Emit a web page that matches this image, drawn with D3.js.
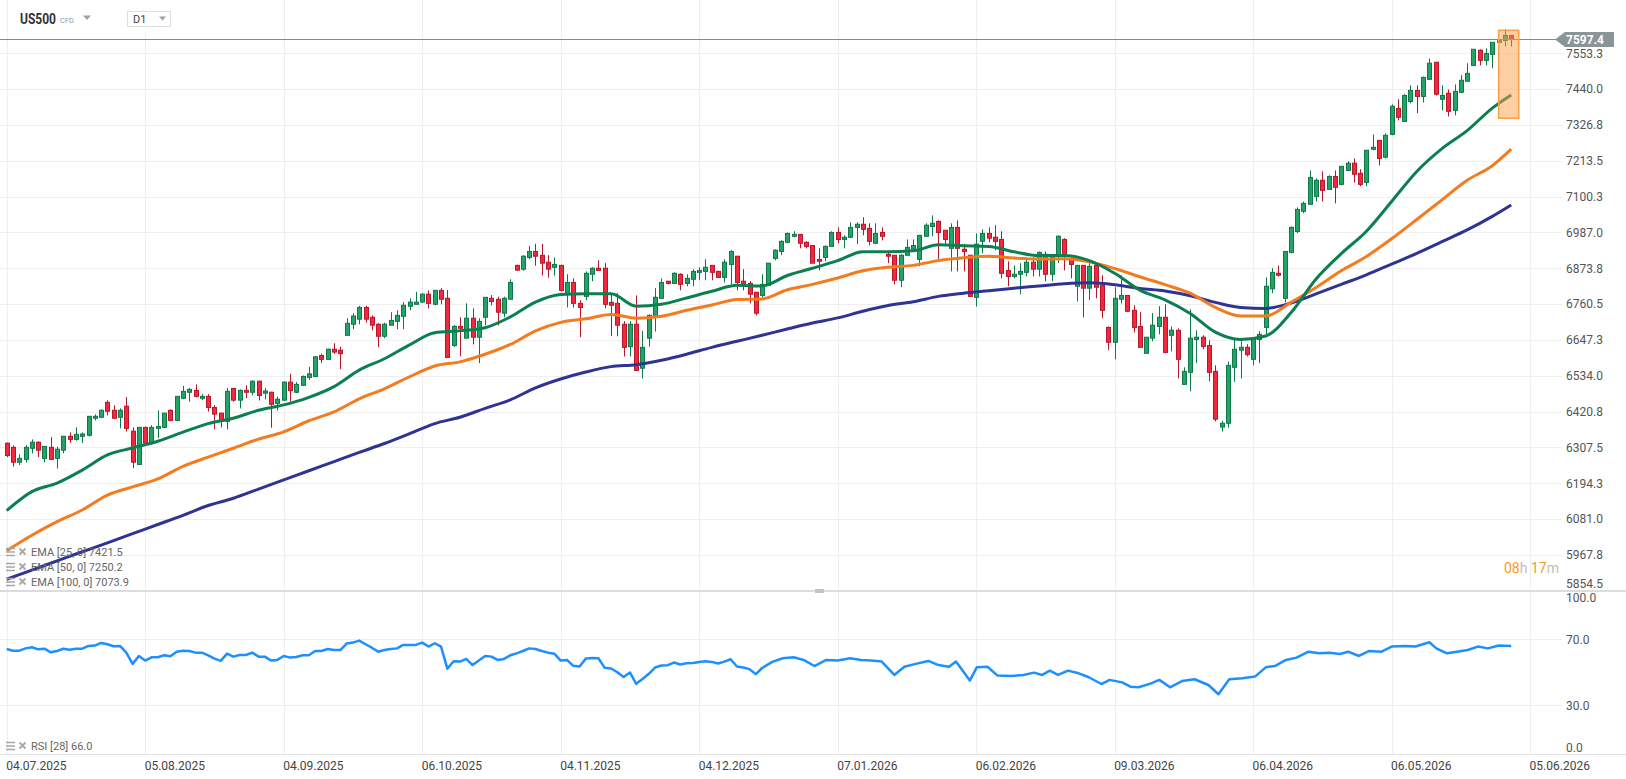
<!DOCTYPE html>
<html>
<head>
<meta charset="utf-8">
<script src="https://cdn.jsdelivr.net/npm/d3@7"></script>
<style>
  body { margin: 0; background: #fff; }
  svg { display: block; font-family: Roboto, "Noto Sans", sans-serif; }
</style>
</head>
<body>
<svg width="1626" height="779"></svg>
<script>
// ---- data (daily bars, index 0 = 04.07.2025) ----

var dateBars = [0, 22, 44, 66, 88, 110, 132, 154, 176, 198, 220, 242];
var dateLabels = ["04.07.2025", "05.08.2025", "04.09.2025", "06.10.2025", "04.11.2025", "04.12.2025",
                  "07.01.2026", "06.02.2026", "09.03.2026", "06.04.2026", "06.05.2026", "05.06.2026"];

var priceTicks = [5854.5, 5967.8, 6081.0, 6194.3, 6307.5, 6420.8, 6534.0, 6647.3,
                  6760.5, 6873.8, 6987.0, 7100.3, 7213.5, 7326.8, 7440.0, 7553.3];
var rsiTicks = [0, 30, 70, 100];

var open = [
6321,6308,6261,6270,6305,6324,6273,6308,6273,6299,6343,6333,6343,6346,6400,6403,6450,6425,6403,6438,
6359,6254,6371,6321,6368,6371,6425,6393,6463,6482,6488,6463,6469,6434,6416,6390,6494,6457,6488,6482,
6517,6479,6482,6447,6457,6514,6482,6504,6529,6532,6598,6586,6618,6615,6662,6697,6713,6750,6719,6697,
6659,6694,6706,6722,6754,6760,6767,6792,6760,6804,6779,6630,6690,6653,6716,6656,6719,6779,6776,6732,
6776,6883,6871,6908,6927,6915,6893,6877,6883,6795,6829,6763,6785,6855,6874,6874,6766,6763,6697,6626,
6697,6558,6653,6725,6779,6833,6826,6855,6826,6839,6861,6864,6883,6864,6845,6886,6912,6833,6826,6798,
6788,6820,6905,6927,6956,6975,6981,6956,6946,6902,6908,6943,6987,6965,6972,7003,7013,7000,6953,6987,
6918,6915,6836,6915,6934,6902,6975,7006,7022,6994,6937,7003,6934,6915,6782,6959,6984,6972,6965,6867,
6848,6855,6861,6893,6871,6918,6855,6912,6965,6905,6817,6883,6811,6883,6820,6687,6640,6776,6788,6741,
6690,6605,6653,6690,6719,6662,6678,6507,6545,6649,6656,6630,6548,6372,6384,6561,6615,6624,6586,6649,
6687,6809,6858,6779,6924,6990,7054,7076,7101,7152,7123,7164,7139,7183,7206,7174,7145,7250,7278,7225,
7297,7379,7338,7401,7436,7417,7471,7525,7408,7427,7373,7430,7465,7515,7563,7531,7550,7588,7594,7610
];
var high = [
6323,6314,6286,6315,6333,6327,6311,6340,6310,6343,6355,6371,6355,6406,6412,6428,6457,6441,6431,6467,
6371,6371,6373,6378,6425,6416,6428,6469,6502,6496,6507,6476,6476,6441,6417,6496,6495,6491,6504,6519,
6518,6495,6484,6468,6516,6540,6514,6535,6562,6596,6604,6620,6637,6626,6716,6732,6755,6755,6725,6701,
6702,6735,6741,6767,6779,6799,6795,6804,6804,6811,6805,6695,6719,6763,6747,6716,6782,6789,6784,6784,
6839,6885,6915,6944,6951,6951,6915,6908,6885,6855,6842,6773,6864,6877,6899,6890,6795,6795,6707,6707,
6788,6676,6728,6811,6842,6833,6861,6858,6855,6871,6877,6902,6883,6866,6902,6931,6912,6871,6833,6798,
6855,6890,6934,6962,6987,6991,6981,6959,6946,6937,6946,6991,7003,6978,7019,7019,7035,7016,7016,7003,
6927,6915,6918,6965,6965,6978,7016,7041,7025,6994,7016,7025,6950,6915,6984,6997,7003,7010,6991,6896,
6883,6890,6908,6908,6927,6927,6915,6978,6969,6908,6883,6883,6890,6890,6852,6690,6814,6852,6788,6757,
6735,6656,6732,6754,6760,6690,6684,6561,6744,6678,6662,6646,6567,6392,6579,6649,6653,6634,6656,6675,
6845,6874,6883,6927,7006,7066,7085,7183,7158,7180,7168,7183,7196,7212,7221,7187,7247,7297,7278,7300,
7392,7408,7424,7452,7452,7480,7537,7525,7452,7439,7455,7484,7522,7566,7566,7569,7588,7594,7629,7610
];
var low = [
6277,6247,6252,6260,6289,6277,6261,6268,6241,6289,6322,6329,6321,6342,6393,6400,6409,6397,6368,6358,
6242,6252,6318,6318,6337,6368,6390,6390,6460,6452,6466,6457,6421,6365,6371,6365,6452,6431,6463,6472,
6456,6460,6370,6424,6455,6452,6479,6502,6521,6530,6574,6584,6603,6555,6662,6681,6697,6702,6678,6624,
6653,6694,6681,6681,6741,6760,6765,6747,6757,6760,6592,6625,6596,6653,6633,6574,6694,6757,6693,6719,
6776,6866,6866,6902,6882,6851,6844,6851,6800,6750,6750,6656,6773,6833,6866,6747,6660,6659,6595,6595,
6551,6525,6626,6674,6779,6823,6826,6804,6817,6817,6836,6836,6836,6843,6829,6823,6804,6804,6763,6725,
6782,6820,6899,6915,6953,6972,6937,6937,6890,6867,6896,6943,6953,6937,6969,6950,6978,6946,6950,6962,
6890,6823,6814,6915,6927,6880,6975,6975,6902,6950,6864,6864,6864,6785,6753,6921,6956,6931,6842,6817,
6842,6792,6848,6848,6848,6833,6833,6890,6867,6842,6769,6719,6773,6779,6716,6615,6586,6763,6735,6671,
6624,6605,6643,6665,6605,6611,6526,6507,6485,6574,6618,6517,6390,6358,6370,6515,6525,6595,6567,6574,
6665,6795,6848,6766,6921,6985,7048,7076,7085,7085,7123,7079,7136,7183,7145,7133,7133,7247,7199,7221,
7294,7341,7338,7395,7364,7398,7471,7420,7373,7354,7357,7427,7465,7515,7515,7515,7506,7587,7575,7575
];
var close = [
6282,6261,6273,6308,6324,6299,6311,6270,6302,6343,6333,6349,6350,6406,6406,6425,6422,6400,6425,6368,
6261,6371,6321,6371,6374,6416,6393,6469,6485,6491,6469,6469,6434,6413,6390,6485,6457,6488,6482,6517,
6472,6486,6444,6460,6514,6487,6507,6532,6540,6594,6586,6618,6609,6604,6700,6723,6750,6713,6694,6659,
6697,6709,6725,6757,6767,6767,6792,6763,6804,6776,6592,6690,6684,6716,6656,6706,6782,6769,6735,6779,
6829,6868,6912,6927,6912,6890,6871,6886,6804,6829,6763,6750,6858,6874,6867,6760,6757,6694,6624,6697,
6551,6624,6725,6782,6829,6826,6858,6823,6842,6864,6867,6877,6861,6845,6893,6927,6829,6823,6792,6732,
6823,6890,6931,6959,6984,6981,6953,6943,6890,6896,6943,6987,6965,6972,7003,7013,6997,6959,6984,6975,
6912,6836,6915,6940,6946,6978,7010,7016,6987,6965,7003,6937,6927,6785,6950,6984,6969,6959,6858,6848,
6855,6864,6893,6871,6924,6855,6908,6975,6915,6886,6883,6811,6880,6814,6741,6640,6779,6788,6738,6687,
6624,6656,6694,6719,6608,6678,6586,6548,6653,6656,6627,6545,6397,6384,6567,6618,6624,6601,6653,6665,
6817,6861,6852,6927,7003,7060,7079,7161,7152,7120,7164,7130,7196,7206,7171,7139,7247,7256,7221,7294,
7386,7351,7420,7436,7417,7477,7522,7424,7420,7370,7433,7468,7490,7566,7531,7553,7588,7593,7610,7597.4
];

// moving averages, read every 4th bar
var emaBars = [0,4,8,12,16,20,24,28,32,36,40,44,48,52,56,60,64,68,72,76,80,84,88,92,96,100,104,108,112,116,
               120,124,128,132,136,140,144,148,152,156,160,164,168,172,176,180,184,188,192,196,200,204,208,212,
               216,220,224,228,232,236,239];
var ema25 = [6108,6168,6195,6236,6284,6306,6327,6356,6383,6400,6425,6442,6466,6500,6552,6588,6632,6670,6676,6686,
             6720,6767,6791,6793,6793,6754,6760,6780,6801,6820,6818,6851,6874,6898,6926,6926,6929,6948,6945,6943,
             6926,6914,6914,6898,6858,6805,6774,6731,6672,6649,6660,6733,6840,6920,6991,7085,7180,7252,7309,7380,7421.5];
var ema50 = [5981,6030,6073,6110,6157,6183,6208,6248,6277,6305,6334,6357,6392,6420,6461,6493,6531,6565,6578,6602,
             6633,6676,6703,6714,6728,6716,6722,6741,6758,6775,6777,6806,6823,6843,6866,6877,6883,6898,6907,6912,
             6906,6903,6904,6894,6873,6847,6822,6795,6750,6723,6723,6766,6813,6866,6911,6967,7028,7090,7152,7198,7250.2];
var ema100 = [5891,5920,5949,5978,6006,6035,6064,6093,6124,6147,6176,6205,6234,6263,6292,6320,6351,6383,6403,6431,
              6458,6496,6524,6546,6563,6569,6583,6602,6624,6643,6662,6682,6701,6717,6738,6756,6768,6785,6795,6803,
              6811,6818,6825,6828,6822,6810,6802,6787,6766,6750,6747,6764,6793,6823,6853,6887,6921,6958,6995,7038,7073.9];

// RSI 28
var rsiBars = [
0,1,2,3,4,5,6,7,8,9,10,11,12,13,14,15,16,17,18,19,20,21,22,23,24,25,26,27,28,29,
30,31,32,33,34,35,36,37,38,39,40,41,42,43,44,45,46,47,48,49,50,51,52,53,54,55,56,57,58,59,
60,61,62,63,64,65,66,67,68,69,70,71,72,73,74,75,76,77,78,79,80,81,82,83,84,85,86,87,88,89,
90,91,92,93,94,95,96,97,98,99,100,101,102,103,104,105,106,107,108,109,110,111,112,113,114,115,116,117,118,119,120,
121.7,123.3,125,126.6,128.3,130.2,132,134,135.7,137.3,139,141,142.6,144.4,146.4,148,149.7,150.8,153,154.1,
155.8,157.4,159.6,161.5,163.2,164.5,165.7,167,168.6,170.3,171.9,173.9,175.2,177.2,178.5,179.8,181.8,183.1,184.8,186.7,
188.7,190.9,192.5,194.2,196.3,198.3,200,201.6,203.2,204.9,206.8,208.5,210.1,211.8,213.1,214.8,216.4,218.4,220,222.2,
223.8,226,227.1,228.8,230.4,232.1,233.7,235.3,237,239
];
var rsiValues = [
64.1,63.1,63.1,64.5,65.2,63.9,64.3,62.1,62.9,64.3,63.7,64.3,64.3,66.0,66.2,67.8,67.0,65.8,66.0,61.9,
55.1,59.9,57.1,59.1,59.1,60.3,59.7,62.5,63.1,62.9,61.9,61.9,60.3,58.3,56.9,61.3,59.5,60.5,60.5,61.9,
59.5,59.5,57.1,57.5,59.9,58.9,59.3,60.3,60.3,62.9,62.9,64.1,63.5,63.5,67.4,68.0,69.2,67.0,64.9,62.5,
63.5,64.1,64.5,66.6,66.6,66.6,68.0,65.6,67.6,65.6,52.2,56.7,56.5,58.1,54.4,57.1,59.9,59.5,57.5,58.1,
60.3,61.5,62.9,64.5,64.1,62.9,61.9,61.3,57.1,57.5,53.9,53.5,58.3,58.7,58.5,52.7,52.3,50.0,47.1,49.9,
43.0,45.9,49.1,52.9,54.1,54.3,55.9,54.7,55.5,55.7,56.3,56.7,56.3,55.3,56.5,57.9,53.5,52.9,51.9,48.9,52.6,
56.5,58.5,59.1,57.5,53.8,57.5,57.1,58.5,57.5,57.1,56.5,48.4,53.4,55.1,56.9,54.4,53.4,56.5,45.0,53.0,
53.4,48.0,47.8,48.4,49.8,48.4,51.0,48.4,51.0,49.4,47.0,42.9,45.4,43.9,41.3,40.9,43.3,45.4,40.9,44.7,
45.8,42.3,36.7,45.8,46.4,47.4,53.0,54.0,57.5,58.9,62.5,61.5,61.9,61.1,62.5,59.9,62.9,62.5,65.6,66.0,
65.6,68.2,64.5,61.5,62.5,63.5,65.6,64.5,66.2,66.0
];

var lastPrice = 7597.4;
var legendLines = ["EMA [25, 0] 7421.5", "EMA [50, 0] 7250.2", "EMA [100, 0] 7073.9"];
var legendColors = ["#0c7f50", "#f47b20", "#2d3494"];
// orange marker box round the last bars (bar range, price range)
var boxBars = [237, 240.2];
var boxPrices = [7348, 7626];

// ---- layout ----
var svg = d3.select("svg"),
    width = +svg.attr("width"),
    height = +svg.attr("height"),
    plotRight = 1562;

// bar index -> x, price -> y, rsi -> y
var x = d3.scaleLinear().domain([0, 242]).range([6.7, 1530.1]);
var y = d3.scaleLinear().domain([5854.5, 7553.3]).range([590.8, 53.3]);
var yr = d3.scaleLinear().domain([0, 100]).range([754.8, 589.8]);

var upFill = "#22a466", upLine = "#10774a",
    downFill = "#f2283c", downLine = "#b7172c";

var defs = svg.append("defs");
defs.append("clipPath").attr("id", "clipMain")
  .append("rect").attr("x", 0).attr("y", 0).attr("width", plotRight).attr("height", 590);
defs.append("clipPath").attr("id", "clipRsi")
  .append("rect").attr("x", 0).attr("y", 592).attr("width", plotRight).attr("height", 162);

svg.append("rect").attr("width", width).attr("height", height).attr("fill", "#fff");

// grid
var grid = svg.append("g").attr("stroke", "#efefef").attr("stroke-width", 1);
grid.selectAll(".vg").data(dateBars).enter().append("line")
    .attr("x1", function(d) { return Math.round(x(d)) + 0.5; })
    .attr("x2", function(d) { return Math.round(x(d)) + 0.5; })
    .attr("y1", 0).attr("y2", 754);
grid.selectAll(".hg").data(priceTicks).enter().append("line")
    .attr("x1", 0).attr("x2", plotRight)
    .attr("y1", function(d) { return Math.round(y(d)) + 0.5; })
    .attr("y2", function(d) { return Math.round(y(d)) + 0.5; });
grid.selectAll(".rg").data([30, 70]).enter().append("line")
    .attr("x1", 0).attr("x2", plotRight)
    .attr("y1", function(d) { return Math.round(yr(d)) + 0.5; })
    .attr("y2", function(d) { return Math.round(yr(d)) + 0.5; });

// pane separator + bottom line
svg.append("line").attr("x1", 0).attr("x2", width).attr("y1", 591).attr("y2", 591)
    .attr("stroke", "#dcdcdc").attr("stroke-width", 2);
svg.append("rect").attr("x", 815).attr("y", 589).attr("width", 9).attr("height", 4).attr("fill", "#c4c4c4");
svg.append("line").attr("x1", 0).attr("x2", width).attr("y1", 754.5).attr("y2", 754.5)
    .attr("stroke", "#e2e2e2").attr("stroke-width", 1);

// header (white patch keeps gridlines out)
var head = svg.append("g");
head.append("rect").attr("x", 14).attr("y", 0).attr("width", 165).attr("height", 31).attr("fill", "#fff");
head.append("text").attr("x", 20).attr("y", 23.5).attr("font-size", 14).attr("font-weight", "bold")
    .attr("textLength", 36).attr("lengthAdjust", "spacingAndGlyphs")
    .attr("fill", "#333").text("US500");
head.append("text").attr("x", 60).attr("y", 22.5).attr("font-size", 7.5).attr("fill", "#999").text("CFD");
head.append("path").attr("d", "M83,15.5L91,15.5L87,20Z").attr("fill", "#a0a0a0");
head.append("rect").attr("x", 127.5).attr("y", 11.5).attr("width", 43).attr("height", 15)
    .attr("fill", "#fff").attr("stroke", "#dedede");
head.append("text").attr("x", 133).attr("y", 23).attr("font-size", 11).attr("fill", "#444").text("D1");
head.append("path").attr("d", "M159,16.5L166,16.5L162.5,20.5Z").attr("fill", "#a0a0a0");

// candles
var main = svg.append("g").attr("clip-path", "url(#clipMain)");
var bars = main.append("g").selectAll("g")
  .data(d3.range(close.length))
  .enter().append("g");

bars.append("line")
    .attr("x1", function(i) { return Math.round(x(i)) + 0.5; })
    .attr("x2", function(i) { return Math.round(x(i)) + 0.5; })
    .attr("y1", function(i) { return y(high[i]); })
    .attr("y2", function(i) { return y(low[i]); })
    .attr("stroke", function(i) { return close[i] >= open[i] ? upLine : downLine; })
    .attr("stroke-width", 1);

bars.append("rect")
    .attr("x", function(i) { return Math.round(x(i)) - 1.5; })
    .attr("width", 4)
    .attr("y", function(i) { return y(Math.max(open[i], close[i])); })
    .attr("height", function(i) { return Math.max(1, Math.abs(y(open[i]) - y(close[i]))); })
    .attr("fill", function(i) { return close[i] >= open[i] ? upFill : downFill; })
    .attr("stroke", function(i) { return close[i] >= open[i] ? upLine : downLine; })
    .attr("stroke-width", 1);

// EMA lines on top of the candles
var emaLine = function(vals) {
  return d3.line()
    .x(function(d, k) { return x(emaBars[k]); })
    .y(function(d) { return y(d); })
    .curve(d3.curveMonotoneX)(vals);
};
[ema100, ema50, ema25].forEach(function(vals, k) {
  main.append("path")
      .attr("d", emaLine(vals))
      .attr("fill", "none")
      .attr("stroke", legendColors[2 - k])
      .attr("stroke-width", 3)
      .attr("stroke-linejoin", "round");
});

// last price line
main.append("line").attr("x1", 0).attr("x2", plotRight)
    .attr("y1", Math.round(y(lastPrice)) + 0.5).attr("y2", Math.round(y(lastPrice)) + 0.5)
    .attr("stroke", "#7f8b8f").attr("stroke-width", 1.2);

// highlight box over the last bars
main.append("rect")
    .attr("x", x(boxBars[0]))
    .attr("width", x(boxBars[1]) - x(boxBars[0]))
    .attr("y", y(boxPrices[1]))
    .attr("height", y(boxPrices[0]) - y(boxPrices[1]))
    .attr("fill", "rgba(252,160,72,0.5)")
    .attr("stroke", "#f6a04a")
    .attr("stroke-width", 1.5);

// price axis
var yAxis = svg.append("g")
    .attr("transform", "translate(" + plotRight + ",0)")
    .call(d3.axisRight(y).tickValues(priceTicks).tickSize(0).tickPadding(4).tickFormat(d3.format(".1f")));
yAxis.select(".domain").remove();
yAxis.selectAll("text").attr("font-size", 12).attr("fill", "#555").attr("font-family", "Roboto, sans-serif");
yAxis.selectAll(".tick").filter(function(d) { return d === 5854.5; }).select("text").attr("dy", "-0.25em");

// price tag
var ty = Math.round(y(lastPrice)) + 0.5;
svg.append("path")
    .attr("d", "M1555," + ty + "L1565," + (ty - 7.5) + "L1614," + (ty - 7.5) + "L1614," + (ty + 7.5) + "L1565," + (ty + 7.5) + "Z")
    .attr("fill", "#8a9599");
svg.append("text").attr("x", 1566).attr("y", ty).attr("dy", "0.35em")
    .attr("font-size", 12).attr("font-weight", "bold").attr("fill", "#fff")
    .text(d3.format(".1f")(lastPrice));

// countdown
var timer = svg.append("text").attr("x", 1504).attr("y", 573).attr("font-size", 14);
timer.append("tspan").attr("fill", "#f59a23").text("08");
timer.append("tspan").attr("fill", "#bdbdbd").text("h ");
timer.append("tspan").attr("fill", "#f59a23").text("17");
timer.append("tspan").attr("fill", "#bdbdbd").text("m");

// EMA legend
var legend = svg.append("g")
  .selectAll("g")
  .data(legendLines)
  .enter().append("g")
    .attr("transform", function(d, i) { return "translate(0," + (552 + i * 15) + ")"; });
legend.append("path")
    .attr("d", "M6,-3.5H15M6,0H15M6,3.5H15")
    .attr("stroke", "#a8a8a8").attr("stroke-width", 1.6);
legend.append("path")
    .attr("d", "M19.5,-3.5L25.5,2.5M25.5,-3.5L19.5,2.5")
    .attr("stroke", "#a8a8a8").attr("stroke-width", 1.8);
legend.append("text")
    .attr("x", 31).attr("dy", "0.35em")
    .attr("font-size", 11).attr("fill", "#666")
    .text(function(d) { return d; });

// RSI pane
var rsiG = svg.append("g").attr("clip-path", "url(#clipRsi)");
rsiG.append("path")
    .attr("d", d3.line()
        .x(function(d) { return x(d[0]); })
        .y(function(d) { return yr(d[1]); })(d3.zip(rsiBars, rsiValues)))
    .attr("fill", "none")
    .attr("stroke", "#1e8fff")
    .attr("stroke-width", 2.5)
    .attr("stroke-linejoin", "round");

var rAxis = svg.append("g")
    .attr("transform", "translate(" + plotRight + ",0)")
    .call(d3.axisRight(yr).tickValues(rsiTicks).tickSize(0).tickPadding(4).tickFormat(d3.format(".1f")));
rAxis.select(".domain").remove();
rAxis.selectAll("text").attr("font-size", 12).attr("fill", "#555").attr("font-family", "Roboto, sans-serif");
rAxis.selectAll(".tick").filter(function(d) { return d === 100; }).select("text").attr("dy", "1em");
rAxis.selectAll(".tick").filter(function(d) { return d === 0; }).select("text").attr("dy", "-0.25em");

var rsiLeg = svg.append("g").attr("transform", "translate(0,746)");
rsiLeg.append("path").attr("d", "M6,-3.5H15M6,0H15M6,3.5H15").attr("stroke", "#a8a8a8").attr("stroke-width", 1.6);
rsiLeg.append("path").attr("d", "M19.5,-3.5L25.5,2.5M25.5,-3.5L19.5,2.5").attr("stroke", "#a8a8a8").attr("stroke-width", 1.8);
rsiLeg.append("text").attr("x", 31).attr("dy", "0.35em").attr("font-size", 11).attr("fill", "#666")
    .text("RSI [28] " + d3.format(".1f")(rsiValues[rsiValues.length - 1]));

// date axis
var xAxis = svg.append("g")
    .attr("transform", "translate(0,755)")
    .call(d3.axisBottom(x).tickValues(dateBars).tickSize(0).tickPadding(6)
      .tickFormat(function(d, i) { return dateLabels[i]; }));
xAxis.select(".domain").remove();
xAxis.selectAll("text")
    .attr("text-anchor", "start")
    .attr("dx", -1)
    .attr("font-size", 12)
    .attr("fill", "#444")
    .attr("font-family", "Roboto, sans-serif");
</script>
</body>
</html>
